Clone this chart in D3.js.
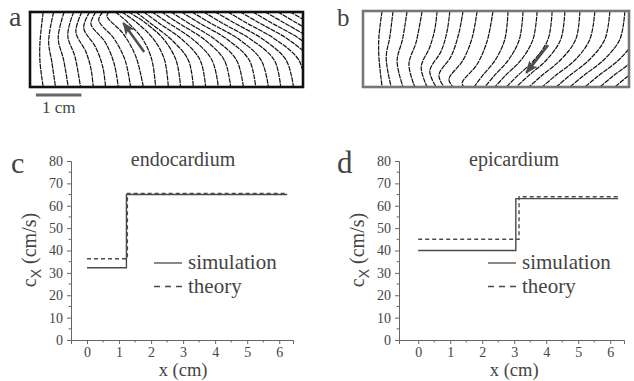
<!DOCTYPE html>
<html>
<head>
<meta charset="utf-8">
<script src="https://cdn.jsdelivr.net/npm/d3@7"></script>
<style>
  body { margin: 0; background: #fff; }
  text { font-family: "Liberation Serif", "DejaVu Serif", serif; fill: #444; }
</style>
</head>
<body>
<svg id="fig" width="634" height="381"></svg>
<script>
const endoFronts = [
  [[2.9,0],[2.2,6.6],[2.2,11],[2.9,16.5]],
  [[5.2,0],[4.1,6.4],[4.8,11],[5.6,16.5]],
  [[7.5,0],[6.2,5.7],[7.4,10.6],[8.4,16.5]],
  [[9.6,0],[8.3,5.1],[9.9,9.9],[11.1,16.5]],
  [[11.4,0],[10.1,4.4],[12.3,8.8],[13.4,12.5],[13.9,16.5]],
  [[13.1,0],[11.8,3.5],[14.4,7.7],[16,12.1],[16.6,16.5]],
  [[14.5,0],[13.4,2.6],[16.5,6.6],[18.5,11.4],[19.4,16.5]],
  [[16,0],[15.1,1.8],[18.5,5.9],[20.9,10.6],[22.1,16.5]],
  [[17.4,0],[16.9,0.9],[20.5,4.8],[23.3,9.9],[24.9,16.5]],
  [[18.8,0],[21.6,2.4],[24.9,6.2],[26.8,10.6],[27.6,16.5]],
  [[20.2,0],[23.3,2.2],[27.1,5.9],[29.5,10.3],[30.4,16.5]],
  [[21.7,0],[25.1,2.2],[29.3,5.9],[32.1,10.6],[33.1,16.5]],
  [[23.3,0],[26.4,2.4],[31.2,6.2],[34.8,10.6],[35.9,16.5]],
  [[25,0],[28.3,2.4],[33.6,6.2],[37.4,10.6],[38.6,16.5]],
  [[26.8,0],[30.4,2.4],[36,6.2],[40,10.6],[41.4,16.5]],
  [[28.9,0],[32.6,2.4],[38.5,6.2],[42.7,10.6],[44.1,16.5]],
  [[31,0],[34.8,2.4],[40.9,6.2],[45.4,10.6],[46.9,16.5]],
  [[33.3,0],[37.2,2.4],[43.6,6.2],[48.2,10.6],[49.6,16.5]],
  [[35.6,0],[39.6,2.4],[46.2,6.2],[50.8,10.6],[52.4,16.5]],
  [[38.2,0],[42.2,2.4],[48.8,6.2],[53.7,10.6],[55.1,16.5]],
  [[40.7,0],[44.9,2.4],[51.5,6.2],[56.3,10.6],[57.9,16.5]],
  [[43.5,0],[47.6,2.4],[54.2,6.2],[59.1,10.6],[60.6,16.5]],
  [[46.2,0],[50.4,2.4],[57,6.2],[61.8,10.6],[63.4,16.5]],
  [[49,0],[53.1,2.4],[59.7,6.2],[64.6,10.6]],
  [[51.7,0],[55.9,2.4],[62.5,6.2]],
  [[54.5,0],[58.6,2.4],[65.2,6.2]],
  [[57.2,0],[61.4,2.4],[68,6.2]],
  [[60,0],[64.1,2.4]]
];
const endoArrow = [[25.1,8.8],[20.5,2.4]];

const epiFronts = [
  [[4.2,0],[3.5,5.7],[3.5,10.1],[4.2,16.7]],
  [[6.6,0],[5.9,5.7],[5.1,10.3],[6.2,16.7]],
  [[9.7,0],[8.7,6.2],[7.5,11],[8.8,16.7]],
  [[13,0],[11.7,6.8],[10.1,11.7],[11.4,16.7]],
  [[16.3,0],[15.8,4],[14.7,7.9],[12.8,12.3],[14.1,16.7]],
  [[19.1,0],[18.5,4.4],[17.2,8.8],[14.7,13.2],[16.1,16.7]],
  [[22,0],[21.1,4.8],[19.4,9.9],[16.7,14.1],[17.8,16.7]],
  [[25.1,0],[24,5.9],[22,10.8],[18.9,15],[19.8,16.7]],
  [[28.6,0],[27.3,6.6],[25.1,11.7],[21.8,15.8],[22.2,16.7]],
  [[31.9,0],[31.2,6.2],[29.2,10.6],[26.2,14.3],[24.4,16.7]],
  [[35.2,0],[34.4,6.2],[32.1,10.6],[28.8,14.3],[26.8,16.7]],
  [[38.3,0],[37.4,6.2],[34.9,10.6],[31.2,14.3],[29,16.7]],
  [[41.6,0],[40.7,6.2],[37.8,10.6],[33.9,14.3],[31.5,16.7]],
  [[44.4,0],[43.5,6.2],[40.5,10.6],[36.3,14.3],[33.7,16.7]],
  [[47.7,0],[46.8,6.2],[43.6,10.6],[39.2,14.3],[36.5,16.7]],
  [[51,0],[49.9,6.2],[46.8,10.6],[42.2,14.3],[39.4,16.7]],
  [[54.3,0],[53.2,6.2],[49.9,10.6],[45.3,14.3],[42.5,16.7]],
  [[57.6,0],[56.5,6.2],[53.1,10.6],[48.4,14.3],[45.5,16.7]],
  [[60.9,0],[59.8,6.2],[56.4,10.6],[51.7,14.3],[48.8,16.7]],
  [[64.2,0],[63.1,6.2],[59.7,10.6],[55,14.3],[52.1,16.7]],
  [[67.5,0],[66.4,6.2],[63,10.6],[58.3,14.3],[55.4,16.7]],
  [[70.8,0],[69.7,6.2],[66.3,10.6],[61.6,14.3],[58.7,16.7]]
];
const epiArrow = [[40.7,7.5],[35.9,13.6]];

// ---- data: c_x profiles (x in cm, c_x in cm/s), step after each x ----
const endoSimX = [0, 1.23, 6.25];
const endoSimC = [32.3, 65, 65];
const endoTheoryX = [0, 1.26, 6.25];
const endoTheoryC = [36.3, 65.5, 65.5];
const epiSimX = [0, 3.05, 6.25];
const epiSimC = [40, 63.2, 63.2];
const epiTheoryX = [0, 3.15, 6.25];
const epiTheoryC = [45, 64, 64];

const yTicks = [0, 10, 20, 30, 40, 50, 60, 70, 80];
const xTicks = [0, 1, 2, 3, 4, 5, 6];
const legendLabels = ["simulation", "theory"];

const svg = d3.select("#fig");
const defs = svg.append("defs");
defs.append("marker")
  .attr("id", "head")
  .attr("markerUnits", "userSpaceOnUse")
  .attr("viewBox", "0 0 12 10")
  .attr("refX", 11).attr("refY", 5)
  .attr("markerWidth", 13).attr("markerHeight", 11)
  .attr("orient", "auto")
  .append("path").attr("d", "M0,0 L12,5 L0,10 L3,5 Z").attr("fill", "#4d4d4d");

function drawTissue(cfg) {
  const x = d3.scaleLinear().domain([0, cfg.w]).range([cfg.left, cfg.right]);
  const y = d3.scaleLinear().domain([0, cfg.h]).range([cfg.top, cfg.bottom]);
  defs.append("clipPath").attr("id", cfg.id)
    .append("rect")
    .attr("x", cfg.left).attr("y", cfg.top)
    .attr("width", cfg.right - cfg.left).attr("height", cfg.bottom - cfg.top);

  const g = svg.append("g");
  const line = d3.line().x(d => x(d[0])).y(d => y(d[1])).curve(d3.curveCatmullRom.alpha(0.5));

  g.append("g").attr("clip-path", `url(#${cfg.id})`)
    .selectAll("path")
    .data(cfg.fronts)
    .join("path")
    .attr("d", line)
    .attr("fill", "none")
    .attr("stroke", "#111")
    .attr("stroke-width", 1.2)
    .attr("stroke-dasharray", "5,0.8");

  g.append("path")
    .attr("d", d3.line().x(d => x(d[0])).y(d => y(d[1]))(cfg.arrow))
    .attr("stroke", "#4d4d4d")
    .attr("stroke-width", 2.5)
    .attr("marker-end", "url(#head)");

  g.append("rect")
    .attr("x", cfg.left).attr("y", cfg.top)
    .attr("width", cfg.right - cfg.left).attr("height", cfg.bottom - cfg.top)
    .attr("fill", "none")
    .attr("stroke", cfg.border)
    .attr("stroke-width", 2.6);

  svg.append("text")
    .attr("x", cfg.labelX).attr("y", cfg.labelY)
    .style("font-size", cfg.labelSize + "px")
    .text(cfg.label);
  return x;
}

const xa = drawTissue({
  id: "clipA", fronts: endoFronts, arrow: endoArrow, w: 60, h: 16.5,
  left: 30, right: 303, top: 12, bottom: 87, border: "#111",
  label: "a", labelX: 9, labelY: 26, labelSize: 28
});
drawTissue({
  id: "clipB", fronts: epiFronts, arrow: epiArrow, w: 58.5, h: 16.7,
  left: 363, right: 629, top: 11, bottom: 87, border: "#777",
  label: "b", labelX: 337, labelY: 26, labelSize: 25
});

// scale bar: 1 cm on the tissue map a
svg.append("line")
  .attr("x1", xa(1.3)).attr("x2", xa(11.3))
  .attr("y1", 95).attr("y2", 95)
  .attr("stroke", "#666").attr("stroke-width", 3);
svg.append("text")
  .attr("x", (xa(1.3) + xa(11.3)) / 2).attr("y", 113)
  .attr("text-anchor", "middle")
  .style("font-size", "17px")
  .text("1 cm");

function drawChart(cfg) {
  const g = svg.append("g");
  const x = d3.scaleLinear().domain(cfg.xDomain).range([cfg.left, cfg.right]);
  const y = d3.scaleLinear().domain([0, 80]).range([340, 161]);

  const yAxis = g.append("g")
    .attr("transform", `translate(${cfg.left},0)`)
    .call(d3.axisLeft(y).tickValues(yTicks).tickFormat(d3.format("d")).tickSize(4).tickPadding(4));
  const xAxis = g.append("g")
    .attr("transform", "translate(0,340)")
    .call(d3.axisBottom(x).tickValues(xTicks).tickFormat(d3.format("d")).tickSize(4).tickPadding(3));

  // minor ticks
  g.append("g").selectAll("line")
    .data(d3.range(5, 80, 10))
    .join("line")
    .attr("x1", cfg.left).attr("x2", cfg.left - 2.5)
    .attr("y1", d => y(d)).attr("y2", d => y(d))
    .attr("stroke", "#666");
  g.append("g").selectAll("line")
    .data(d3.range(0.5, 6.5, 1))
    .join("line")
    .attr("x1", d => x(d)).attr("x2", d => x(d))
    .attr("y1", 340).attr("y2", 342.5)
    .attr("stroke", "#666");

  [yAxis, xAxis].forEach(a => {
    a.select(".domain").attr("stroke", "#666");
    a.selectAll(".tick line").attr("stroke", "#666");
    a.selectAll(".tick text")
      .style("font-family", "Liberation Serif, serif")
      .style("font-size", "14px")
      .attr("fill", "#555");
  });

  const line = d3.line().x(d => x(d[0])).y(d => y(d[1])).curve(d3.curveStepAfter);
  g.append("path")
    .datum(d3.zip(cfg.theoryX, cfg.theoryC))
    .attr("d", line)
    .attr("fill", "none").attr("stroke", "#4a4a4a")
    .attr("stroke-width", 1.4).attr("stroke-dasharray", "4,3");
  g.append("path")
    .datum(d3.zip(cfg.simX, cfg.simC))
    .attr("d", line)
    .attr("fill", "none").attr("stroke", "#4a4a4a")
    .attr("stroke-width", 1.4);

  // legend
  const lg = g.append("g");
  legendLabels.forEach((lab, i) => {
    const ly = 263 + i * 23.5;
    lg.append("line")
      .attr("x1", cfg.legendX).attr("x2", cfg.legendX + 28)
      .attr("y1", ly).attr("y2", ly)
      .attr("stroke", "#4a4a4a").attr("stroke-width", 1.3)
      .attr("stroke-dasharray", i === 1 ? "6,5" : null);
    lg.append("text")
      .attr("x", cfg.legendX + 34).attr("y", ly + 6)
      .style("font-size", "21px")
      .text(lab);
  });

  g.append("text")
    .attr("x", cfg.titleX).attr("y", 166)
    .attr("text-anchor", "middle")
    .style("font-size", "20px")
    .text(cfg.title);

  g.append("text")
    .attr("x", x(3)).attr("y", 376)
    .attr("text-anchor", "middle")
    .style("font-size", "18.5px")
    .text("x (cm)");

  const yl = g.append("text")
    .attr("transform", `translate(${cfg.yLabelX},250) rotate(-90)`)
    .attr("text-anchor", "middle")
    .style("font-size", "20px");
  yl.append("tspan").text("c");
  yl.append("tspan").attr("dy", 5).style("font-size", "14px")
    .style("font-family", "Liberation Sans, sans-serif").text("X");
  yl.append("tspan").attr("dy", -5).text(" (cm/s)");

  svg.append("text")
    .attr("x", cfg.labelX).attr("y", 173)
    .style("font-size", cfg.labelSize + "px")
    .text(cfg.label);
}

drawChart({
  xDomain: [-0.5, 6.43], left: 71, right: 293,
  simX: endoSimX, simC: endoSimC, theoryX: endoTheoryX, theoryC: endoTheoryC,
  legendX: 154, title: "endocardium", titleX: 183, yLabelX: 36,
  label: "c", labelX: 11, labelSize: 30
});
drawChart({
  xDomain: [-0.6, 6.43], left: 399, right: 624,
  simX: epiSimX, simC: epiSimC, theoryX: epiTheoryX, theoryC: epiTheoryC,
  legendX: 488, title: "epicardium", titleX: 514, yLabelX: 364,
  label: "d", labelX: 337, labelSize: 31
});
</script>
</body>
</html>
